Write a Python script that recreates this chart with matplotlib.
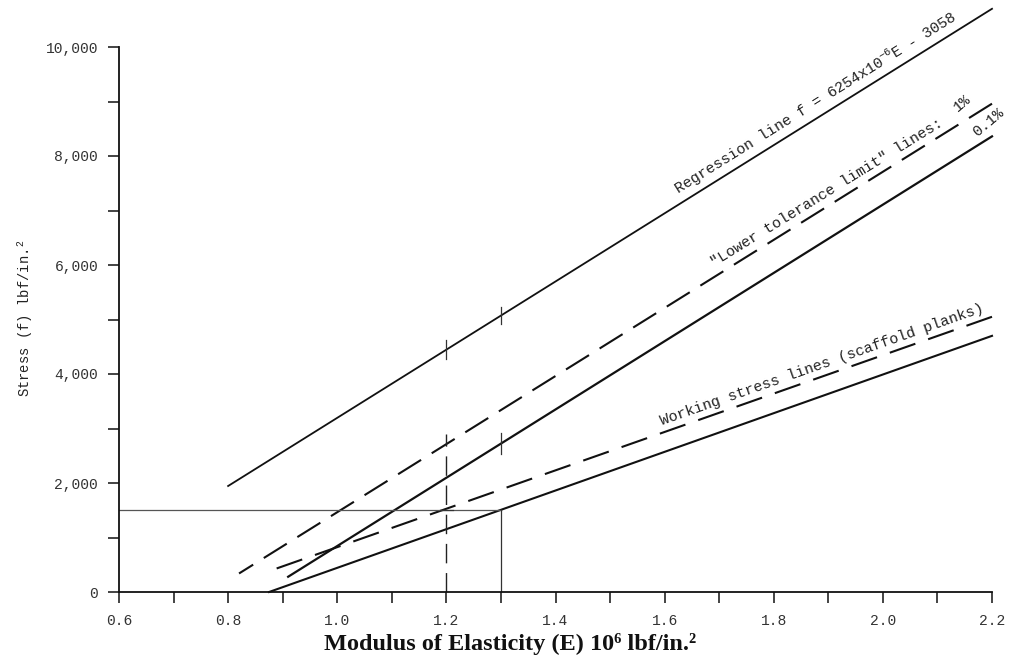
import numpy as np
import matplotlib.pyplot as plt

plt.rcParams['mathtext.fontset'] = 'custom'
plt.rcParams['mathtext.rm'] = 'Liberation Mono'

MONO = ['Liberation Mono', 'DejaVu Sans Mono']
SERIF = ['Liberation Serif', 'DejaVu Serif']

# lines (E in 10^6 lbf/in.2, f in lbf/in.2)
# listed from the right end so the dash pattern starts with a full dash there
E_regr = [0.80, 2.20]
f_regr = [1945, 10701]
E_tol1 = [2.20, 0.82]
f_tol1 = [8960, 340]
E_tol01 = [0.91, 2.20]
f_tol01 = [280, 8360]
E_work_dash = [2.20, 0.877]
f_work_dash = [5050, 390]
E_work = [0.875, 2.20]
f_work = [0, 4700]

# design point guide lines
E_design = 1.3
f_design = 1500
E_guide = 1.2
f_guide_top = 2900

# short crossing marks
mark_E = [1.2, 1.3, 1.3]
mark_f = [4447, 5072, 2723]
mark_half = [180, 160, 190]

xticks = [0.6, 0.8, 1.0, 1.2, 1.4, 1.6, 1.8, 2.0, 2.2]
xlabels = ['0.6', '0.8', '1.0', '1.2', '1.4', '1.6', '1.8', '2.0', '2.2']
yticks = [0, 2000, 4000, 6000, 8000, 10000]
ylabels = ['0', '2,000', '4,000', '6,000', '8,000', '10,000']

fig = plt.figure(figsize=(10.17, 6.57), dpi=100)
ax = fig.add_axes([119 / 1017, 65 / 657, 873 / 1017, 545 / 657])
ax.set_xlim(0.6, 2.2)
ax.set_ylim(0, 10000)

ink = '#111111'
ax.plot(E_regr, f_regr, color=ink, lw=1.3, clip_on=False)
ax.plot(E_tol1, f_tol1, color=ink, lw=1.5, dashes=(13, 6.0), clip_on=False)
ax.plot(E_tol01, f_tol01, color=ink, lw=1.6, clip_on=False)
ax.plot(E_work_dash, f_work_dash, color=ink, lw=1.5, dashes=(13, 6.5), clip_on=False)
ax.plot(E_work, f_work, color=ink, lw=1.5, clip_on=False)

# guide lines
ax.plot([0.6, E_design], [f_design, f_design], color='#555555', lw=0.9)
ax.plot([E_design, E_design], [0, f_design], color='#333333', lw=0.9)
ax.plot([E_guide, E_guide], [0, f_guide_top], color='#222222', lw=1.0, dashes=(14, 7))
for e, f, h in zip(mark_E, mark_f, mark_half):
    ax.plot([e, e], [f - h, f + h], color='#333333', lw=0.9)
ax.plot([E_guide - 0.012, E_guide + 0.012], [f_design, f_design], color='#333333', lw=0.9)


def screen_deg(xs, ys):
    d = np.degrees(np.arctan2(ys[1] - ys[0], xs[1] - xs[0]))
    if d > 90:
        d -= 180
    elif d < -90:
        d += 180
    return ax.transData.transform_angles(np.array([d]),
                                         np.array([[xs[0], ys[0]]]))[0]


def line_at(xs, ys, x):
    order = np.argsort(xs)
    return np.interp(x, np.array(xs)[order], np.array(ys)[order])


txt = dict(family=MONO, fontsize=10.8, color='#222222', ha='left', va='baseline',
           rotation_mode='anchor', clip_on=False)

ax.text(1.625, line_at(E_regr, f_regr, 1.625) + 180,
        'Regression line f = 6254x10$^{\\mathrm{-6}}$E - 3058',
        rotation=screen_deg(E_regr, f_regr), **txt)
ax.text(1.69, line_at(E_tol1, f_tol1, 1.69) + 190,
        '"Lower tolerance limit" lines:',
        rotation=screen_deg(E_tol1, f_tol1) - 0.3, **txt)
ax.text(1.595, line_at(E_work_dash, f_work_dash, 1.595) + 145,
        'Working stress lines (scaffold planks)',
        rotation=screen_deg(E_work_dash, f_work_dash), **txt)
ax.text(2.138, line_at(E_tol1, f_tol1, 2.138) + 235, '1%', rotation=40, **txt)
ax.text(2.172, line_at(E_tol01, f_tol01, 2.172) + 160, '0.1%', rotation=40, **txt)

# axes styling
for s in ['top', 'right']:
    ax.spines[s].set_visible(False)
for s in ['left', 'bottom']:
    ax.spines[s].set_linewidth(1.3)
    ax.spines[s].set_color(ink)

ax.set_xticks(xticks)
ax.set_xticklabels(xlabels, family=MONO, fontsize=10.5, color='#333333')
ax.set_xticks(np.arange(0.7, 2.2, 0.2), minor=True)
ax.set_yticks(yticks)
ax.set_yticklabels(ylabels, family=MONO, fontsize=10.5, color='#333333')
ax.set_yticks(np.arange(1000, 10000, 2000), minor=True)
ax.tick_params(axis='x', which='both', direction='out', length=8, width=1.1,
               pad=8, colors=ink, labelcolor='#333333')
ax.tick_params(axis='y', which='both', direction='out', length=8, width=1.1,
               pad=7, colors=ink, labelcolor='#333333')

fig.text(25 / 1017, 1 - 318 / 657, 'Stress (f) lbf/in.$^{2}$', family=MONO,
         fontsize=10, color='#222222', rotation=90, ha='center', va='center')
fig.text(510 / 1017, 1 - 650 / 657,
         'Modulus of Elasticity (E) 10\u2076 lbf/in.\u00b2',
         family=SERIF, fontweight='bold', fontsize=17.5,
         color='#111111', ha='center', va='baseline')

fig.savefig('out.png', dpi=100)
